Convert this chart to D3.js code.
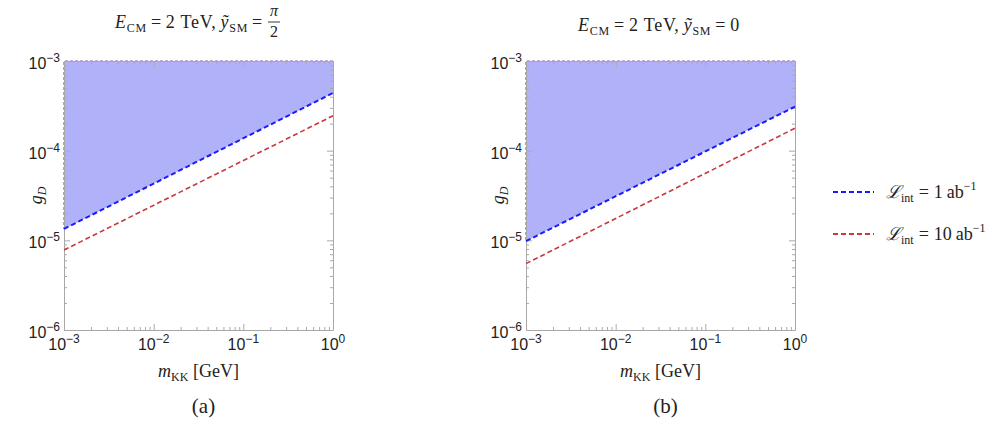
<!DOCTYPE html>
<html>
<head>
<meta charset="utf-8">
<script src="https://cdn.jsdelivr.net/npm/d3@7"></script>
<style>
  body { margin: 0; background: #fff; }
  svg text { fill: #222; }
  .serif { font-family: "Liberation Serif", "DejaVu Serif", serif; }
  .sans { font-family: "Liberation Sans", Arial, sans-serif; }
</style>
</head>
<body>
<div id="chart"></div>
<script>
// end points of the bound lines (straight in log-log)
var masses = [1e-3, 1];
var panelA_1ab = [1.34e-5, 4.4e-4];
var panelA_10ab = [7.8e-6, 2.45e-4];
var panelB_1ab = [9.8e-6, 3.1e-4];
var panelB_10ab = [5.5e-6, 1.78e-4];
var xTicks = [1e-3, 1e-2, 1e-1, 1];
var yTicks = [1e-6, 1e-5, 1e-4, 1e-3];
var xTickLabels = ["10", "10", "10", "10"];
var xTickExp = ["\u22123", "\u22122", "\u22121", "0"];
var yTickExp = ["\u22126", "\u22125", "\u22124", "\u22123"];
var panelLetters = ["(a)", "(b)"];

// title with TeX-like spacing around "=" (stretched to the target width)
function mathTitle(svg, x, y, tail, targetWidth) {
  var t = svg.append("text").attr("class", "serif").attr("x", x).attr("y", y).style("font-size", "18px");
  t.append("tspan").style("font-style", "italic").text("E");
  t.append("tspan").attr("dy", 4).style("font-size", "12px").text("CM");
  t.append("tspan").attr("dy", -4).attr("dx", 4).text("=");
  t.append("tspan").attr("dx", 4).text("2 TeV,");
  t.append("tspan").attr("dx", 4).style("font-style", "italic").text("\u1EF9");
  t.append("tspan").attr("dy", 4).style("font-size", "12px").text("SM");
  t.append("tspan").attr("dy", -4).attr("dx", 4).text("=");
  if (tail) t.append("tspan").attr("dx", 4).text(tail);
  var w = t.node().getComputedTextLength() + 20;
  var n = t.text().length;
  if (targetWidth > w) t.style("letter-spacing", ((targetWidth - w) / n) + "px");
  return t;
}

function init() {
  var width = 1006, height = 444;
  var svg = d3.select("#chart").append("svg")
    .attr("width", width).attr("height", height);

  drawPanel(svg, { left: 64, right: 333, top: 61, bottom: 330 }, panelA_1ab, panelA_10ab, 0);
  drawPanel(svg, { left: 526, right: 795, top: 61, bottom: 330 }, panelB_1ab, panelB_10ab, 1);

  // titles
  mathTitle(svg, 115, 28, "", 152);
  var fx = 274;
  svg.append("text").attr("class", "serif").attr("x", fx).attr("y", 16)
    .attr("text-anchor", "middle").style("font-size", "16px").style("font-style", "italic").text("\u03C0");
  svg.append("line").attr("x1", fx - 6).attr("x2", fx + 6).attr("y1", 22).attr("y2", 22)
    .attr("stroke", "#222").attr("stroke-width", 0.9);
  svg.append("text").attr("class", "serif").attr("x", fx).attr("y", 37)
    .attr("text-anchor", "middle").style("font-size", "16px").text("2");

  mathTitle(svg, 578, 31, "0", 162);

  // legend
  var legend = [
    { color: "#1a1aff", value: "1", y: 192 },
    { color: "#c8393c", value: "10", y: 234 }
  ];
  legend.forEach(function(l) {
    svg.append("line").attr("x1", 833).attr("x2", 874).attr("y1", l.y).attr("y2", l.y)
      .attr("stroke", l.color).attr("stroke-width", 2).attr("stroke-dasharray", "5,3");
    var t = svg.append("text").attr("class", "serif").attr("x", 886).attr("y", l.y + 6).style("font-size", "18px");
    t.append("tspan").style("font-style", "italic").text("\u2112");
    t.append("tspan").attr("dy", 4).style("font-size", "12px").text("int");
    t.append("tspan").attr("dy", -4).attr("dx", 5).text("=");
    t.append("tspan").attr("dx", 5).text(l.value);
    t.append("tspan").attr("dx", 4).text("ab");
    t.append("tspan").attr("dy", -8).style("font-size", "12px").text("\u22121");
  });
}

function drawPanel(svg, box, line1, line10, idx) {
  var x = d3.scaleLog().domain([1e-3, 1]).range([box.left, box.right]);
  var y = d3.scaleLog().domain([1e-6, 1e-3]).range([box.bottom, box.top]);
  var g = svg.append("g");

  // excluded region above the 1 ab^-1 line
  var region = [[masses[0], line1[0]], [masses[1], line1[1]], [masses[1], 1e-3], [masses[0], 1e-3]];
  g.append("path")
    .attr("d", d3.line().x(function(d) { return x(d[0]); }).y(function(d) { return y(d[1]); })(region) + "Z")
    .attr("fill", "#b1b1fa");
  var border = [[masses[1], 1e-3], [masses[0], 1e-3], [masses[0], line1[0]]];
  g.append("path")
    .attr("d", d3.line().x(function(d) { return x(d[0]); }).y(function(d) { return y(d[1]); })(border))
    .attr("fill", "none").attr("stroke", "#8a5aa6").attr("stroke-width", 1.2).attr("stroke-dasharray", "3,2");
  // red region border on the left edge
  g.append("line").attr("x1", x(masses[0]) + 0.5).attr("x2", x(masses[0]) + 0.5)
    .attr("y1", y(line1[0])).attr("y2", y(line10[0]))
    .attr("stroke", "#d06060").attr("stroke-width", 1).attr("stroke-dasharray", "3,2");

  // axes: minor + major ticks, inward, all four sides
  var minorX = x.ticks().filter(function(v) { return xTicks.indexOf(v) < 0; });
  var minorY = y.ticks().filter(function(v) { return yTicks.indexOf(v) < 0; });
  var axes = [
    { ax: d3.axisBottom(x), t: "translate(0," + box.bottom + ")", minor: minorX, major: xTicks },
    { ax: d3.axisTop(x), t: "translate(0," + box.top + ")", minor: minorX, major: xTicks },
    { ax: d3.axisLeft(y), t: "translate(" + box.left + ",0)", minor: minorY, major: yTicks },
    { ax: d3.axisRight(y), t: "translate(" + box.right + ",0)", minor: minorY, major: yTicks }
  ];
  axes.forEach(function(a) {
    var gm = g.append("g").attr("transform", a.t)
      .call(a.ax.tickValues(a.minor).tickSize(-3).tickFormat(""));
    gm.select(".domain").remove();
    gm.selectAll("line").attr("stroke", "#aaa");
    var gM = g.append("g").attr("transform", a.t)
      .call(a.ax.tickValues(a.major).tickSize(-6).tickSizeOuter(0).tickFormat(""));
    gM.select(".domain").attr("stroke", "#a8a8a8");
    gM.selectAll("line").attr("stroke", "#aaa");
  });

  // tick labels with superscripts
  xTicks.forEach(function(v, i) {
    var t = g.append("text").attr("class", "sans").attr("x", x(v)).attr("y", box.bottom + 20)
      .attr("text-anchor", "middle").style("font-size", "16px");
    t.append("tspan").text(xTickLabels[i]);
    t.append("tspan").attr("dy", -7).style("font-size", "12px").text(xTickExp[i]);
  });
  yTicks.forEach(function(v, i) {
    var t = g.append("text").attr("class", "sans").attr("x", box.left - 4).attr("y", y(v) + 8)
      .attr("text-anchor", "end").style("font-size", "16px");
    t.append("tspan").text("10");
    t.append("tspan").attr("dy", -7).style("font-size", "12px").text(yTickExp[i]);
  });

  // bound lines
  var lineGen = d3.line().x(function(d, i) { return x(masses[i]); }).y(function(d) { return y(d); });
  g.append("path").attr("d", lineGen(line10)).attr("fill", "none")
    .attr("stroke", "#c8393c").attr("stroke-width", 1.6).attr("stroke-dasharray", "5,3");
  g.append("path").attr("d", lineGen(line1)).attr("fill", "none")
    .attr("stroke", "#1a1aff").attr("stroke-width", 2).attr("stroke-dasharray", "5,3");

  var cx = (box.left + box.right) / 2;
  // axis labels
  var xl = g.append("text").attr("class", "serif").attr("x", cx).attr("y", 377)
    .attr("text-anchor", "middle").style("font-size", "18px");
  xl.append("tspan").style("font-style", "italic").text("m");
  xl.append("tspan").attr("dy", 4).style("font-size", "12px").text("KK");
  xl.append("tspan").attr("dy", -4).text(" [GeV]");

  var yl = g.append("text").attr("class", "serif")
    .attr("transform", "translate(" + (box.left - 22) + "," + ((box.top + box.bottom) / 2) + ") rotate(-90)")
    .attr("text-anchor", "middle").style("font-size", "18px");
  yl.append("tspan").style("font-style", "italic").text("g");
  yl.append("tspan").attr("dy", 4).style("font-size", "12px").style("font-style", "italic").text("D");

  g.append("text").attr("class", "serif").attr("x", cx + 5).attr("y", 413)
    .attr("text-anchor", "middle").style("font-size", "21px").text(panelLetters[idx]);
}

window.onload = init;
</script>
</body>
</html>
